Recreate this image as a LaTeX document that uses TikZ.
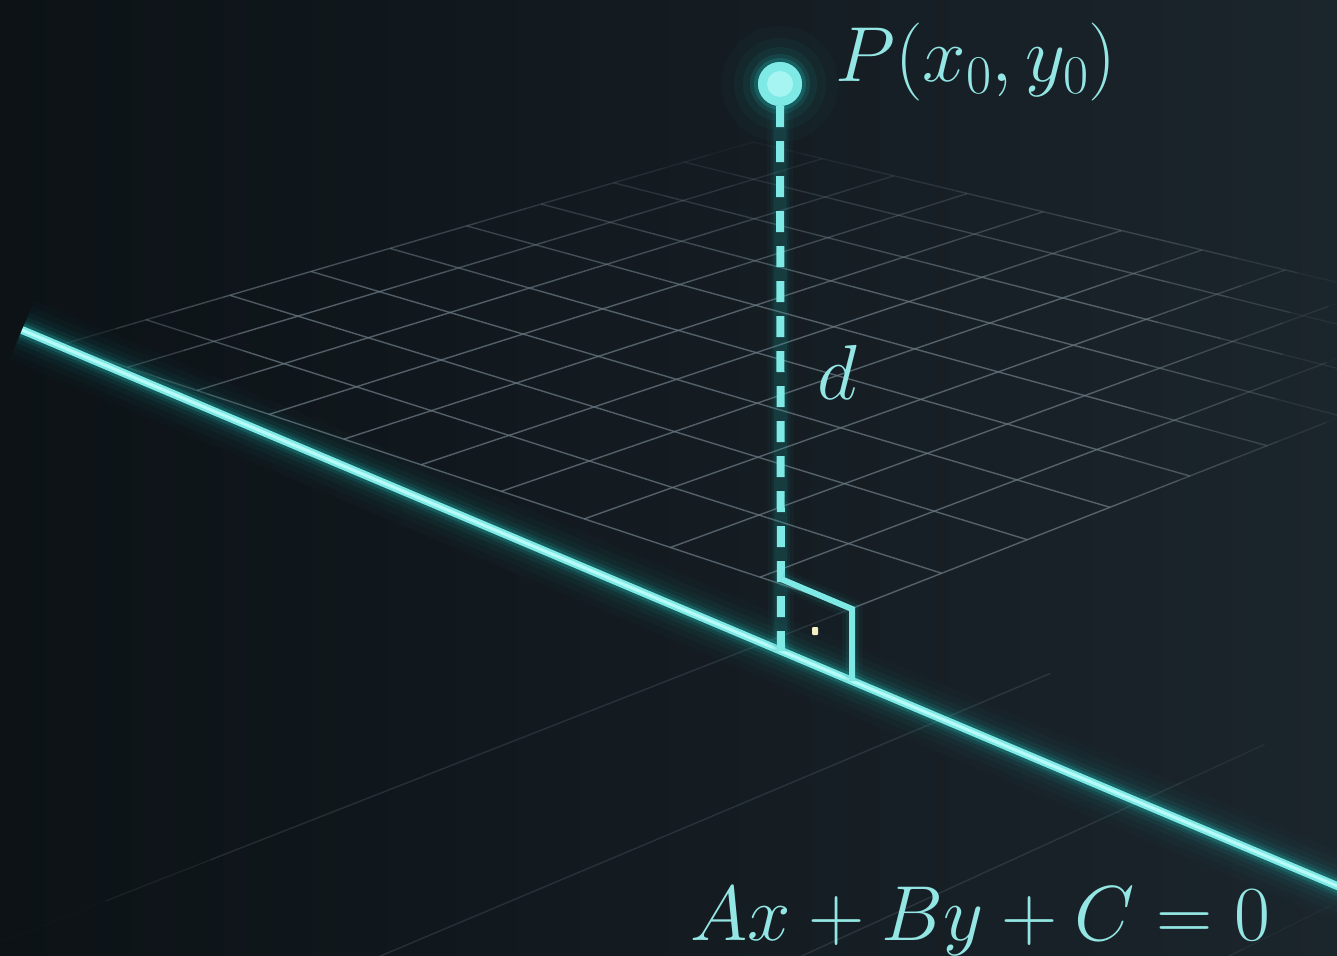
\RequirePackage{fix-cm}
\documentclass[tikz,border=0pt]{standalone}
\usepackage{amsmath}
\usetikzlibrary{calc}

\definecolor{bgdark}{HTML}{0C1216}
\definecolor{bglight}{HTML}{1B252C}
\definecolor{gridgray}{HTML}{6A7882}
\definecolor{neon}{HTML}{7FE9E6}
\definecolor{neoncore}{HTML}{B8FBF8}
\definecolor{neonglow}{HTML}{1FB0AC}
\definecolor{labelcyan}{HTML}{93E6E4}
\definecolor{dotcream}{HTML}{F4F0C6}

\tikzset{
    gridln/.style={draw=gridgray,line width=1.4pt},
    neonline/.style={draw=neon,line width=8pt},
    neondash/.style={draw=neon,line width=8pt,dash pattern=on 21pt off 14pt},
    markerln/.style={draw=neon,line width=6pt,line join=miter},
    ptdot/.style={circle,fill=neon,inner sep=0pt,minimum size=44pt},
    mathlabel/.style={text=labelcyan,font=\fontsize{78}{90}\selectfont,inner sep=0pt}
}

% poids homogenes des coins L, T, R, B de la grille
\def\wL{1.196037}\def\wT{1.358559}\def\wR{1.162522}\def\wB{1}

% point (s,t) du plan -> (\hx,\hy) dans l'image
\newcommand\hmap[2]{%
  \pgfmathsetmacro\ha{(1-(#1))*(1-(#2))*\wL}%
  \pgfmathsetmacro\hb{(#1)*(1-(#2))*\wT}%
  \pgfmathsetmacro\hc{(#1)*(#2)*\wR}%
  \pgfmathsetmacro\hd{(1-(#1))*(#2)*\wB}%
  \pgfmathsetmacro\hw{\ha+\hb+\hc+\hd}%
  \pgfmathsetmacro\hx{(\ha*60+\hb*753+\hc*1552+\hd*853)/\hw}%
  \pgfmathsetmacro\hy{(\ha*345+\hb*142+\hc*334+\hd*608)/\hw}%
}

% une ligne de grille, decoupee en morceaux qui s'estompent vers les bords
\newcommand\gridseg[5]{%
  \foreach \k in {1,...,14}{
    \pgfmathsetmacro\fa{(\k-1)/14}
    \pgfmathsetmacro\fb{\k/14}
    \hmap{(#1)+((#3)-(#1))*\fa}{(#2)+((#4)-(#2))*\fa}
    \let\gxa\hx \let\gya\hy
    \hmap{(#1)+((#3)-(#1))*\fb}{(#2)+((#4)-(#2))*\fb}
    \let\gxb\hx \let\gyb\hy
    \pgfmathsetmacro\gxm{(\gxa+\gxb)/2}
    \pgfmathsetmacro\gym{(\gya+\gyb)/2}
    \pgfmathsetmacro\gop{#5*max(0,min(1,(\gym-130)/170))*max(0,min(1,(1370-\gxm)/260))*max(0,min(1,(\gxm-20)/250))}
    \draw[gridln,opacity=\gop] (\gxa,\gya) -- (\gxb,\gyb);
  }
}

\begin{document}
\begin{tikzpicture}[x=1pt,y=-1pt]
  \useasboundingbox (0,0) rectangle (1337,955);
  \clip (0,0) rectangle (1337,955);

  % fond
  \shade[left color=bgdark,right color=bglight] (0,0) rectangle (1337,955);

  % grille en perspective
  \foreach \i in {0,...,9}{
    \pgfmathsetmacro\gs{\i/9}
    \gridseg{\gs}{0}{\gs}{1}{0.75}
  }
  \foreach \j in {0,...,10}{
    \pgfmathsetmacro\gt{\j/10}
    \gridseg{0}{\gt}{1}{\gt}{0.75}
  }
  % prolongement tres pale devant la droite
  \foreach \gt in {1.0,1.2,1.4,1.6,1.8,2.0}{
    \gridseg{0}{\gt}{-1.4}{\gt}{0.25}
  }

  % points de la figure
  \coordinate (lineL) at (22,330);
  \coordinate (lineR) at (1420,921);
  \coordinate (F) at (781,651);
  \coordinate (cA) at (781,579);
  \coordinate (cB) at (852,609);
  \coordinate (cC) at (852,681);

  % la droite avec son halo
  \foreach \w/\o in {64/0.025,50/0.035,38/0.05,28/0.08,20/0.13,14/0.25}{
    \draw[draw=neonglow,line width=\w pt,opacity=\o] (lineL) -- (lineR);
  }
  \draw[neonline] (lineL) -- (lineR);
  \draw[draw=neoncore,line width=3pt] (lineL) -- (lineR);

  % le point P
  \node[ptdot] (pt) at (780,84) {};
  \foreach \r/\o in {58/0.03,46/0.05,37/0.08,30/0.14,26/0.25}{
    \fill[neonglow,opacity=\o] (pt.center) circle[radius=\r pt];
  }
  \node[ptdot] at (pt.center) {};
  \fill[neoncore,opacity=0.7] (pt.center) circle[radius=13pt];

  % perpendiculaire en pointilles
  \foreach \w/\o in {26/0.04,18/0.07,13/0.12}{
    \draw[draw=neonglow,line width=\w pt,opacity=\o] (pt.south) -- (F);
  }
  \draw[neondash] (pt.south) -- (F);

  % angle droit
  \foreach \w/\o in {20/0.05,13/0.12}{
    \draw[draw=neonglow,line width=\w pt,opacity=\o] (cA) -- (cB) -- (cC);
  }
  \draw[markerln] (cA) -- (cB) -- (cC);
  \node[fill=dotcream,minimum width=6pt,minimum height=8pt,inner sep=0pt,rounded corners=1pt] (sq) at (815,631) {};

  % textes
  \node[mathlabel,anchor=base west] (lblP) at (835,82) {$P(x_0,y_0)$};
  \node[mathlabel,anchor=base west] (lbld) at (817,399) {$d$};
  \node[mathlabel,anchor=base west] (lbleq) at (690,940) {$Ax+By+C=0$};

\end{tikzpicture}
\end{document}
